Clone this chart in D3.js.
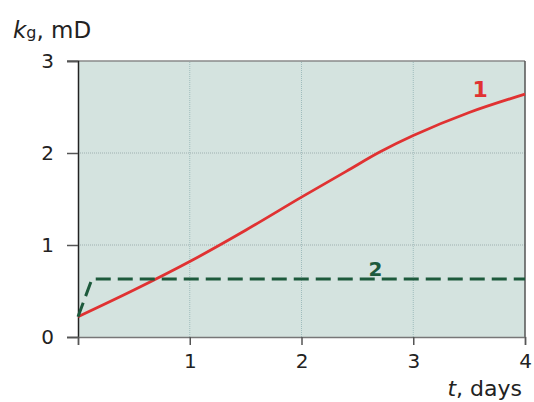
<!DOCTYPE html>
<html>
<head>
<meta charset="utf-8">
<script src="https://cdn.jsdelivr.net/npm/d3@7"></script>
<style>
  body { margin: 0; background: #fff; }
  text { font-family: "DejaVu Sans", Arial, sans-serif; }
</style>
</head>
<body>
<div id="chart"></div>
<script>
var dim = { width: 534, height: 402 };
var margin = { left: 78, right: 9, top: 61, bottom: 65 };

// curve 1 (red)
var t1 = [0, 0.5, 1, 1.5, 2, 2.4, 2.7, 3, 3.5, 4];
var k1 = [0.22, 0.51, 0.82, 1.16, 1.52, 1.8, 2.01, 2.19, 2.44, 2.64];
// curve 2 (dashed green)
var t2 = [0, 0.125, 4];
var k2 = [0.22, 0.63, 0.63];

var xTicks = [1, 2, 3, 4];
var yTicks = [0, 1, 2, 3];

var svg = d3.select("#chart").append("svg")
    .attr("width", dim.width).attr("height", dim.height);

var x = d3.scaleLinear().domain([0, 4]).range([margin.left, dim.width - margin.right]);
var y = d3.scaleLinear().domain([0, 3]).range([dim.height - margin.bottom, margin.top]);

// plot background
svg.append("rect")
    .attr("x", x(0)).attr("y", y(3))
    .attr("width", x(4) - x(0)).attr("height", y(0) - y(3))
    .attr("fill", "#d4e3df");

// grid
svg.append("g").selectAll("line").data([1, 2, 3]).enter().append("line")
    .attr("x1", d => x(d)).attr("x2", d => x(d))
    .attr("y1", y(0)).attr("y2", y(3))
    .attr("stroke", "#9fbcbc").attr("stroke-width", 1)
    .attr("stroke-dasharray", "1,1");
svg.append("g").selectAll("line").data([1, 2]).enter().append("line")
    .attr("x1", x(0)).attr("x2", x(4))
    .attr("y1", d => y(d)).attr("y2", d => y(d))
    .attr("stroke", "#9fb0b0").attr("stroke-width", 1)
    .attr("stroke-dasharray", "1,1");

// frame
svg.append("line").attr("x1", x(0) - 11).attr("x2", x(4))
    .attr("y1", y(3)).attr("y2", y(3)).attr("stroke", "#8a8a8a").attr("stroke-width", 1.5);
svg.append("line").attr("x1", x(4)).attr("x2", x(4))
    .attr("y1", y(3)).attr("y2", y(0)).attr("stroke", "#555").attr("stroke-width", 1.5);

// axes
var yAxis = d3.axisLeft(y).tickValues(yTicks).tickSize(11).tickPadding(13).tickFormat(d3.format("d"));
var gy = svg.append("g").attr("transform", "translate(" + x(0) + ",0)").call(yAxis);
var xAxis = d3.axisBottom(x).tickValues([0].concat(xTicks)).tickSize(8).tickPadding(9)
    .tickFormat(d => d === 0 ? "" : d);
var gx = svg.append("g").attr("transform", "translate(0," + y(0) + ")").call(xAxis);

[gx, gy].forEach(function (g) {
  g.select(".domain").attr("stroke", "#444").attr("stroke-width", 1.5);
  g.selectAll(".tick line").attr("stroke", "#555").attr("stroke-width", 1.5);
  g.selectAll(".tick text").attr("font-size", 20).attr("fill", "#222")
    .style("font-family", "DejaVu Sans, Arial, sans-serif");
});
gy.select(".domain").attr("stroke", "#222");
gx.select(".domain").attr("stroke", "#777");

// lines
var line = d3.line().x(d => x(d[0])).y(d => y(d[1])).curve(d3.curveCatmullRom.alpha(0.5));
svg.append("path")
    .datum(d3.zip(t1, k1))
    .attr("d", line)
    .attr("fill", "none").attr("stroke", "#e03232").attr("stroke-width", 2.8);

var line2 = d3.line().x(d => x(d[0])).y(d => y(d[1]));
svg.append("path")
    .datum(d3.zip(t2, k2))
    .attr("d", line2)
    .attr("fill", "none").attr("stroke", "#1d5a3c").attr("stroke-width", 3)
    .attr("stroke-dasharray", "15,7");

// curve labels
svg.append("text").attr("x", x(3.53)).attr("y", 97)
    .attr("font-size", 22).attr("font-weight", "bold").attr("fill", "#e03232").text("1");
svg.append("text").attr("x", x(2.6)).attr("y", y(0.63) - 3)
    .attr("font-size", 20).attr("font-weight", "bold").attr("fill", "#1d5a3c").text("2");

// axis titles
var yt = svg.append("text").attr("x", 13).attr("y", 38).attr("font-size", 23).attr("fill", "#222");
yt.append("tspan").attr("font-style", "italic").text("k");
yt.append("tspan").attr("font-size", 16).text("g");
yt.append("tspan").text(", mD");

var xt = svg.append("text").attr("x", x(4) - 3).attr("y", 396).attr("text-anchor", "end")
    .attr("font-size", 22).attr("fill", "#222");
xt.append("tspan").attr("font-style", "italic").text("t");
xt.append("tspan").text(", days");
</script>
</body>
</html>
